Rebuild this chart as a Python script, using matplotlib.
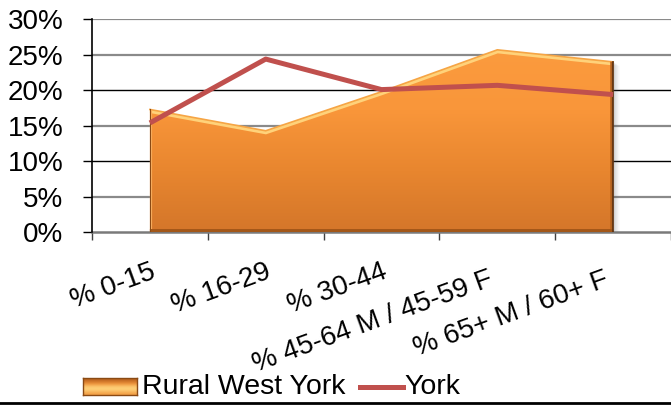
import numpy as np
import matplotlib
matplotlib.use("Agg")
import matplotlib.pyplot as plt
from matplotlib.patches import Polygon
from matplotlib.lines import Line2D
from matplotlib.colors import LinearSegmentedColormap
from matplotlib.transforms import offset_copy, ScaledTranslation

plt.rcParams['font.family'] = ['Liberation Sans', 'DejaVu Sans']

categories = ['% 0-15', '% 16-29', '% 30-44', '% 45-64 M / 45-59 F', '% 65+ M / 60+ F']
rural_west_york = [0.173, 0.143, 0.198, 0.257, 0.240]
york = [0.154, 0.244, 0.201, 0.207, 0.194]
y_ticks = [0.0, 0.05, 0.10, 0.15, 0.20, 0.25, 0.30]

W, H = 671, 405
fig = plt.figure(figsize=(W / 100, H / 100), dpi=100)
ax = fig.add_axes([92 / W, 1 - 232.3 / H, 1 - 92 / W, 213 / H])

x = np.arange(len(categories))

# gridlines (Excel rendering shows 10% / 20% darker)
for v in y_ticks[1:]:
    dark = round(v * 100) in (10, 20)
    ax.axhline(v, color='black' if dark else '#8a8a8a', lw=1.0 if dark else 1.6, zorder=1)

# area with orange gradient
verts = [(x[0], 0)] + list(zip(x, rural_west_york)) + [(x[-1], 0)]

# soft drop shadow
for i, a in enumerate([0.10, 0.08, 0.06, 0.04]):
    tr = offset_copy(ax.transData, fig=fig, x=2 + i * 1.5, y=-1 - i, units='dots')
    ax.add_patch(Polygon(verts, closed=True, facecolor='#555555', edgecolor='none',
                         alpha=a, transform=tr, zorder=2))

poly = Polygon(verts, closed=True, facecolor='none', edgecolor='none', zorder=3)
ax.add_patch(poly)
cmap = LinearSegmentedColormap.from_list('orange', ['#d4762a', '#e8862f', '#f9963a', '#fb9b3e'])
grad = np.linspace(0, 1, 256).reshape(-1, 1)
im = ax.imshow(grad, extent=[x[0], x[-1], 0, max(rural_west_york)], origin='lower',
               aspect='auto', cmap=cmap, zorder=3, interpolation='bicubic')
im.set_clip_path(poly)

# bevel highlights / edges
top_light = ax.plot(x, rural_west_york, color='#ffd27a', lw=5, zorder=4,
                    solid_joinstyle='miter')[0]
top_light.set_clip_path(poly)
ax.plot(x, rural_west_york, color='#f6a545', lw=1.2, zorder=4)
left = ax.plot([x[0], x[0]], [0, rural_west_york[0]], color='#fdb060', lw=3, zorder=4)[0]
left.set_clip_path(poly)
right = ax.plot([x[-1], x[-1]], [0, rural_west_york[-1]], color='#b3621f', lw=4, zorder=4)[0]
right.set_clip_path(poly)
bottom = ax.plot([x[0], x[-1]], [0, 0], color='#a35718', lw=5, zorder=4)[0]
bottom.set_clip_path(poly)
ax.plot([x[-1], x[-1]], [0, rural_west_york[-1]], color='#5a3010', lw=1.2, zorder=4)
ax.plot([x[0], x[0]], [0, rural_west_york[0]], color='#8a4a14', lw=0.8, zorder=4)

# York line
ax.plot(x, york, color='#c0504d', lw=3.6, zorder=6, solid_capstyle='butt')

ax.set_xlim(-0.5, len(categories) - 0.5)
ax.set_ylim(0, 0.30)

ax.spines['top'].set_visible(False)
ax.spines['right'].set_visible(False)
ax.spines['left'].set_color('black')
ax.spines['left'].set_linewidth(1.2)
ax.spines['bottom'].set_color('#7a7a7a')
ax.spines['bottom'].set_linewidth(1.8)
ax.spines['left'].set_zorder(7)

ax.set_yticks(y_ticks)
ax.set_yticklabels([f"{round(v * 100)}%" for v in y_ticks], fontsize=20)
ax.tick_params(axis='y', length=6.5, width=1.0, color='black', pad=14)

ax.set_xticks(x)
ax.set_xticklabels(categories, fontsize=20)
ax.set_xticks(np.arange(-0.5, len(categories), 1.0), minor=True)
ax.tick_params(axis='x', which='major', length=0, pad=19)
ax.tick_params(axis='x', which='minor', length=6, width=1.0, color='#404040')
plt.setp(ax.get_xticklabels(), rotation=20, ha='right', va='top', rotation_mode='anchor')

# the two long labels sit a little lower-left in the original
for lab in ax.get_xticklabels()[3:]:
    lab.set_transform(lab.get_transform() + ScaledTranslation(-0.10, -0.08, fig.dpi_scale_trans))

# legend drawn by hand
lax = fig.add_axes([83 / W, 1 - 395 / H, 54 / W, 17 / H])
lgrad = np.array([0.0, 0.25, 0.55, 0.85, 0.95, 0.8, 0.6]).reshape(-1, 1)
lcmap = LinearSegmentedColormap.from_list('leg', ['#b8621f', '#ee8e35', '#ffd27a'])
lax.imshow(lgrad, aspect='auto', cmap=lcmap, interpolation='bicubic')
for s in lax.spines.values():
    s.set_color('#8a4a14')
    s.set_linewidth(1.0)
lax.set_xticks([])
lax.set_yticks([])

ly = 1 - 387 / H
fig.text(142 / W, ly, 'Rural West York', fontsize=20.5, va='center', ha='left')
fig.add_artist(Line2D([360 / W, 403 / W], [ly, ly], color='#c0504d', lw=3.6,
                      transform=fig.transFigure))
fig.text(404 / W, ly, 'York', fontsize=20.5, va='center', ha='left')

# bottom border of the chart frame
fig.add_artist(Line2D([0, 1], [1 - 402.5 / H, 1 - 402.5 / H], color='black', lw=2,
                      transform=fig.transFigure))

fig.savefig('out.png', dpi=100)
